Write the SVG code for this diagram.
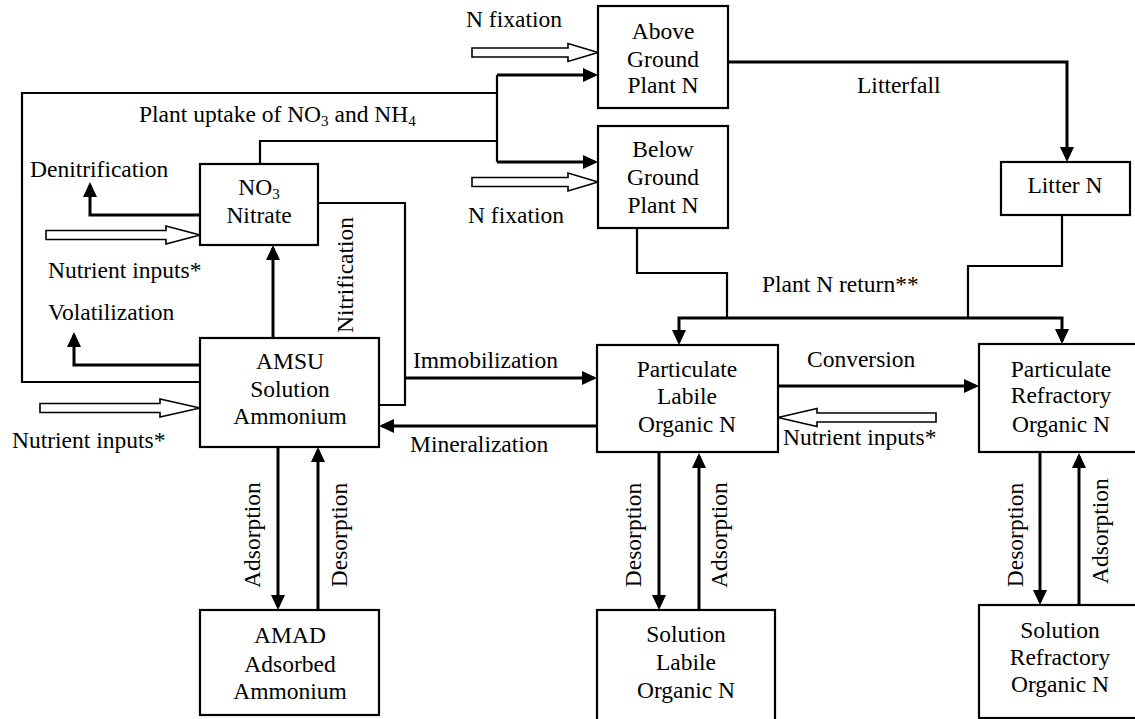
<svg xmlns="http://www.w3.org/2000/svg" width="1135" height="719" viewBox="0 0 1135 719" font-family="'Liberation Serif', 'Times New Roman', Times, serif">
<style>
text{font-family:'Liberation Serif','Times New Roman',Times,serif;font-size:23.5px;fill:#000}
.c{text-anchor:middle}
.box{fill:#fff;stroke:#000;stroke-width:2.2}
.ln{fill:none;stroke:#000;stroke-width:2.2}
.ar{fill:none;stroke:#000;stroke-width:3;marker-end:url(#ah)}
.hol{fill:#fff;stroke:#000;stroke-width:1.6;stroke-linejoin:miter}
</style>
<defs>
<marker id="ah" markerUnits="userSpaceOnUse" markerWidth="15" markerHeight="14" viewBox="0 0 15 14" refX="12" refY="7" orient="auto">
<path d="M0,0 L15,7 L0,14 z" fill="#000"/>
</marker>
</defs>
<rect width="1135" height="719" fill="#fff"/>

<g id="connectors">
<path class="ln" d="M200,382 H22 V93 H497 V75"/>
<path class="ar" d="M497,75 H595"/>
<path class="ln" d="M497,93 V162"/>
<path class="ar" d="M497,162 H595"/>
<path class="ln" d="M260,164 V141 H497"/>
<path class="ar" d="M200,215 H90 V185"/>
<path class="ar" d="M200,365 H74 V335"/>
<path class="ar" d="M273,338 V248"/>
<path class="ln" d="M318,203 H405 V405 H379"/>
<path class="ar" d="M405,378 H594"/>
<path class="ar" d="M597,426 H382"/>
<path class="ar" d="M728,62 H1067 V159"/>
<path class="ln" d="M637,228 V273 H727 V318"/>
<path class="ln" d="M1062,215 V266 H968 V318"/>
<path class="ar" d="M870,318 H679 V342"/>
<path class="ar" d="M870,318 H1062 V341"/>
<path class="ar" d="M778,386 H976"/>
<path class="ar" d="M278,447 V607"/>
<path class="ar" d="M318,610 V450"/>
<path class="ar" d="M659,453 V607"/>
<path class="ar" d="M699,610 V456"/>
<path class="ar" d="M1040,453 V602"/>
<path class="ar" d="M1079,605 V456"/>
<path class="hol" d="M472,48 H568 V43.5 L598,52.5 L568,61.5 V57 H472 Z"/>
<path class="hol" d="M472,177.5 H568 V173 L598,182 L568,191 V186.5 H472 Z"/>
<path class="hol" d="M46,230.5 H166 V226 L200,235 L166,244 V239.5 H46 Z"/>
<path class="hol" d="M40,403.5 H160 V399 L200,408 L160,417 V412.5 H40 Z"/>
<path class="hol" d="M936,413 H817 V408.5 L778,417.5 L817,426.5 V422 H936 Z"/>
</g>

<g id="labels">
<text x="466" y="27">N fixation</text>
<text x="468" y="223">N fixation</text>
<text x="139" y="122">Plant uptake of NO<tspan font-size="15" dy="4">3</tspan><tspan dy="-4"> and NH</tspan><tspan font-size="15" dy="4">4</tspan></text>
<text x="30" y="177">Denitrification</text>
<text x="48" y="278">Nutrient inputs*</text>
<text x="48" y="320">Volatilization</text>
<text x="12" y="448">Nutrient inputs*</text>
<text x="413" y="368">Immobilization</text>
<text x="410" y="452">Mineralization</text>
<text x="857" y="93">Litterfall</text>
<text x="762" y="292">Plant N return**</text>
<text x="807" y="367">Conversion</text>
<text x="783" y="445">Nutrient inputs*</text>
<text class="c" transform="translate(353,275) rotate(-90)">Nitrification</text>
<text class="c" transform="translate(260,535) rotate(-90)">Adsorption</text>
<text class="c" transform="translate(347,535) rotate(-90)">Desorption</text>
<text class="c" transform="translate(641,535) rotate(-90)">Desorption</text>
<text class="c" transform="translate(727,535) rotate(-90)">Adsorption</text>
<text class="c" transform="translate(1023,535) rotate(-90)">Desorption</text>
<text class="c" transform="translate(1108,531) rotate(-90)">Adsorption</text>
</g>

<g id="above-ground">
<rect class="box" x="598" y="6" width="130" height="102"/>
<text class="c" x="663" y="39">Above</text>
<text class="c" x="663" y="67">Ground</text>
<text class="c" x="663" y="93">Plant N</text>
</g>
<g id="below-ground">
<rect class="box" x="598" y="126" width="130" height="102"/>
<text class="c" x="663" y="157">Below</text>
<text class="c" x="663" y="185">Ground</text>
<text class="c" x="663" y="213">Plant N</text>
</g>
<g id="litter">
<rect class="box" x="1001" y="162" width="129" height="53"/>
<text class="c" x="1065" y="193">Litter N</text>
</g>
<g id="nitrate">
<rect class="box" x="200" y="164" width="118" height="81"/>
<text class="c" x="259" y="195">NO<tspan font-size="15" dy="4">3</tspan></text>
<text class="c" x="259" y="223">Nitrate</text>
</g>
<g id="amsu">
<rect class="box" x="200" y="338" width="179" height="109"/>
<text class="c" x="290" y="369">AMSU</text>
<text class="c" x="290" y="397">Solution</text>
<text class="c" x="290" y="424">Ammonium</text>
</g>
<g id="amad">
<rect class="box" x="200" y="610" width="179" height="105"/>
<text class="c" x="290" y="643">AMAD</text>
<text class="c" x="290" y="672">Adsorbed</text>
<text class="c" x="290" y="699">Ammonium</text>
</g>
<g id="plon">
<rect class="box" x="597" y="345" width="181" height="107"/>
<text class="c" x="687" y="377">Particulate</text>
<text class="c" x="687" y="404">Labile</text>
<text class="c" x="687" y="432">Organic N</text>
</g>
<g id="pron">
<rect class="box" x="979" y="344" width="164" height="108"/>
<text class="c" x="1061" y="377">Particulate</text>
<text class="c" x="1061" y="403">Refractory</text>
<text class="c" x="1061" y="432">Organic N</text>
</g>
<g id="slon">
<rect class="box" x="597" y="610" width="178" height="115"/>
<text class="c" x="686" y="642">Solution</text>
<text class="c" x="686" y="670">Labile</text>
<text class="c" x="686" y="698">Organic N</text>
</g>
<g id="sron">
<rect class="box" x="979" y="605" width="162" height="113"/>
<text class="c" x="1060" y="638">Solution</text>
<text class="c" x="1060" y="665">Refractory</text>
<text class="c" x="1060" y="692">Organic N</text>
</g>
</svg>
